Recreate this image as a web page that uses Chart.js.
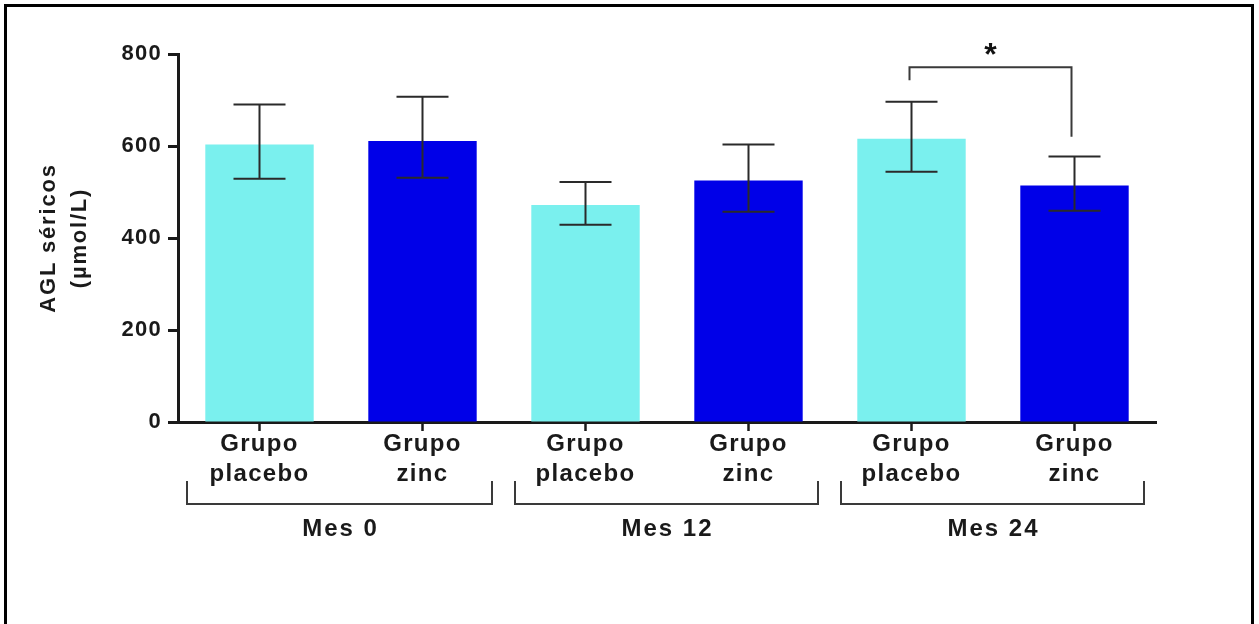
<!DOCTYPE html>
<html>
<head>
<meta charset="utf-8">
<script src="https://cdn.jsdelivr.net/npm/chart.js@4.4.1/dist/chart.umd.min.js"></script>
<style>
  html, body { margin: 0; padding: 0; background: #fff; }
  #wrap { width: 1259px; height: 624px; }
</style>
</head>
<body>
<div id="wrap"><canvas id="chart" width="1259" height="624"></canvas></div>
<script>
// values
var categories = [
    ["Grupo", "placebo"], ["Grupo", "zinc"],
    ["Grupo", "placebo"], ["Grupo", "zinc"],
    ["Grupo", "placebo"], ["Grupo", "zinc"]
];
var means = [603, 611, 472, 525, 616, 514];
var errUpper = [690, 707, 522, 603, 696, 577];
var errLower = [529, 531, 429, 457, 544, 459];
var groupLabels = ["Mes 0", "Mes 12", "Mes 24"];
var yTicks = [0, 200, 400, 600, 800];
var yTitle = ["AGL séricos", "(µmol/L)"];
// significance bracket between bar 4 and bar 5 (indices), heights in axis units
var sigPair = [4, 5];
var sigLevels = { top: 771, leftEnd: 743, rightEnd: 620 };
var sigText = "*";

var colorPlacebo = "#7af0ee";
var colorZinc = "#0000e8";
var barColors = categories.map(function (c, i) { return i % 2 === 0 ? colorPlacebo : colorZinc; });

var FONT = "'Liberation Sans', Arial, Helvetica, sans-serif";

var decorPlugin = {
    id: "decor",
    beforeDraw: function (chart) {
        var ctx = chart.ctx;
        ctx.save();
        ctx.fillStyle = "#fff";
        ctx.fillRect(0, 0, chart.width, chart.height);
        ctx.restore();
        ctx.letterSpacing = "1.3px";
    },
    afterDatasetsDraw: function (chart) {
        var ctx = chart.ctx;
        var ys = chart.scales.y;
        var meta = chart.getDatasetMeta(0);

        // error bars
        ctx.save();
        ctx.strokeStyle = "#2a2a2a";
        ctx.lineWidth = 2;
        meta.data.forEach(function (bar, i) {
            var x = bar.x;
            var yTop = ys.getPixelForValue(errUpper[i]);
            var yBot = ys.getPixelForValue(errLower[i]);
            var half = 26;
            ctx.beginPath();
            ctx.moveTo(x, yTop); ctx.lineTo(x, yBot);
            ctx.moveTo(x - half, yTop); ctx.lineTo(x + half, yTop);
            ctx.moveTo(x - half, yBot); ctx.lineTo(x + half, yBot);
            ctx.stroke();
        });
        ctx.restore();

        // significance bracket
        var xl = meta.data[sigPair[0]].x - 2;
        var xr = meta.data[sigPair[1]].x - 3;
        var yt = ys.getPixelForValue(sigLevels.top);
        ctx.save();
        ctx.strokeStyle = "#3a3a3a";
        ctx.lineWidth = 2;
        ctx.beginPath();
        ctx.moveTo(xl, ys.getPixelForValue(sigLevels.leftEnd));
        ctx.lineTo(xl, yt);
        ctx.lineTo(xr, yt);
        ctx.lineTo(xr, ys.getPixelForValue(sigLevels.rightEnd));
        ctx.stroke();
        ctx.letterSpacing = "0px";
        ctx.fillStyle = "#111";
        ctx.font = "bold 32px " + FONT;
        ctx.textAlign = "center";
        ctx.textBaseline = "alphabetic";
        ctx.fillText(sigText, (xl + xr) / 2, yt - 2);
        ctx.restore();
    },
    afterDraw: function (chart) {
        var ctx = chart.ctx;
        var xs = chart.scales.x;
        var area = chart.chartArea;
        var step = (area.right - area.left) / categories.length;

        // group brackets under the axis labels
        ctx.save();
        ctx.strokeStyle = "#3a3a3a";
        ctx.lineWidth = 2;
        ctx.fillStyle = "#1a1a1a";
        ctx.font = "bold 24px " + FONT;
        ctx.letterSpacing = "2px";
        ctx.textAlign = "center";
        ctx.textBaseline = "middle";
        groupLabels.forEach(function (label, g) {
            var left = xs.getPixelForValue(g * 2) - step / 2 + 11;
            var right = xs.getPixelForValue(g * 2 + 1) + step / 2 - 12;
            if (g === 0) left -= 2;
            ctx.beginPath();
            ctx.moveTo(left, 481);
            ctx.lineTo(left, 504);
            ctx.lineTo(right, 504);
            ctx.lineTo(right, 481);
            ctx.stroke();
            ctx.fillText(label, (left + right) / 2 + 1, 529);
        });
        ctx.restore();

        // y axis title, two lines
        ctx.save();
        ctx.letterSpacing = "1.8px";
        ctx.fillStyle = "#1a1a1a";
        ctx.font = "bold 22px " + FONT;
        ctx.textAlign = "center";
        ctx.textBaseline = "alphabetic";
        ctx.translate(55, (area.top + area.bottom) / 2);
        ctx.rotate(-Math.PI / 2);
        ctx.fillText(yTitle[0], 0, 0);
        ctx.fillText(yTitle[1], 0, 31);
        ctx.restore();

        // picture frame
        ctx.save();
        ctx.letterSpacing = "0px";
        ctx.strokeStyle = "#000";
        ctx.lineWidth = 3;
        ctx.strokeRect(5.5, 5.5, 1247, 640);
        ctx.restore();
    }
};

new Chart(document.getElementById("chart"), {
    type: "bar",
    data: {
        labels: categories,
        datasets: [{
            data: means,
            backgroundColor: barColors,
            borderColor: barColors,
            borderWidth: 0,
            barPercentage: 0.665,
            categoryPercentage: 1.0
        }]
    },
    options: {
        responsive: false,
        animation: false,
        devicePixelRatio: 1,
        layout: { padding: { top: 54, right: 103, left: 0, bottom: 0 } },
        plugins: {
            legend: { display: false },
            tooltip: { enabled: false }
        },
        scales: {
            x: {
                offset: true,
                grid: {
                    offset: false,
                    drawOnChartArea: false,
                    drawTicks: true,
                    tickLength: 9,
                    tickWidth: 2.5,
                    tickColor: "#1a1a1a"
                },
                border: { display: true, color: "#1a1a1a", width: 3 },
                ticks: {
                    color: "#1a1a1a",
                    font: { family: FONT, size: 24, weight: "bold", lineHeight: 1.25 },
                    padding: -2,
                    maxRotation: 0,
                    autoSkip: false
                },
                afterFit: function (scale) { scale.height = 202; }
            },
            y: {
                min: 0,
                max: 800,
                afterBuildTicks: function (scale) {
                    scale.ticks = yTicks.map(function (v) { return { value: v }; });
                },
                grid: {
                    drawOnChartArea: false,
                    drawTicks: true,
                    tickLength: 10,
                    tickWidth: 3,
                    tickColor: "#1a1a1a"
                },
                border: { display: true, color: "#1a1a1a", width: 3 },
                ticks: {
                    color: "#1a1a1a",
                    font: { family: FONT, size: 22, weight: "bold" },
                    padding: 6
                },
                afterFit: function (scale) { scale.width = 178; }
            }
        }
    },
    plugins: [decorPlugin]
});
</script>
</body>
</html>
